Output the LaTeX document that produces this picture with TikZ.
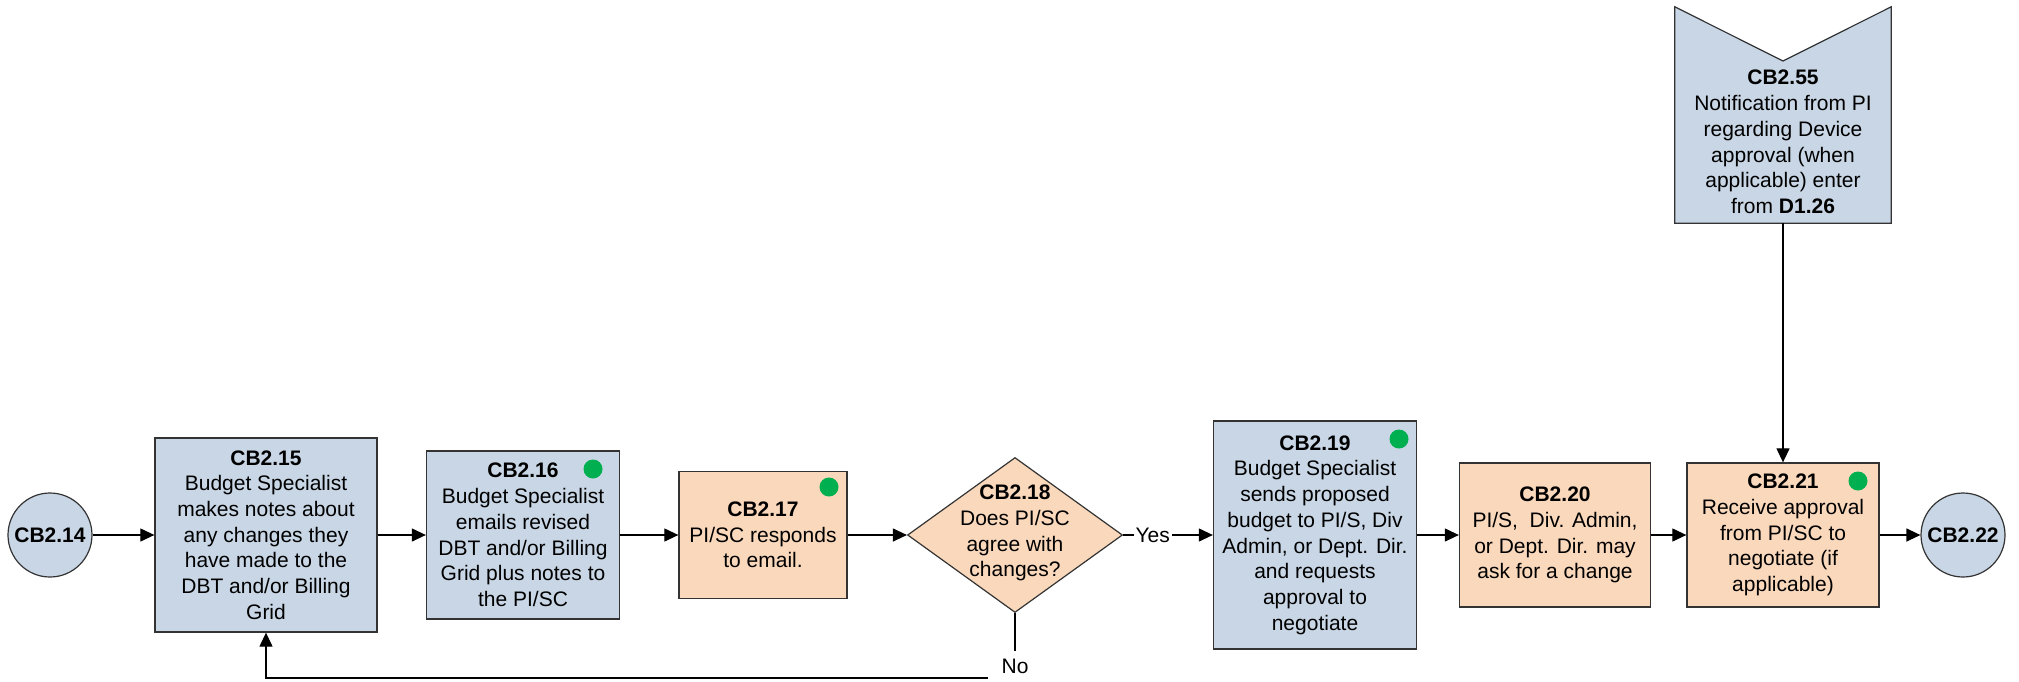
\documentclass[tikz,border=0pt]{standalone}
\usepackage{fontspec}
\setmainfont{Liberation Sans}
\usetikzlibrary{shapes.geometric,arrows.meta}
\definecolor{stepblue}{HTML}{C8D6E5}
\definecolor{steporange}{HTML}{FAD8BC}
\definecolor{dotgreen}{HTML}{00B050}
\definecolor{edge}{HTML}{333333}
\tikzset{
  txt/.style={font=\fontsize{21}{25.7}\selectfont, align=center, inner sep=0pt},
  bluebox/.style={txt, draw=edge, line width=1.3pt, fill=stepblue, rectangle},
  orangebox/.style={txt, draw=edge, line width=1.3pt, fill=steporange, rectangle},
  endpoint/.style={txt, circle, draw=edge, line width=1.2pt, fill=stepblue, minimum size=84pt},
  decision/.style={diamond, draw=edge, line width=1.2pt, fill=steporange, inner sep=0pt,
    minimum width=215pt, minimum height=155pt},
  greendot/.style={circle, fill=dotgreen, minimum size=19pt, inner sep=0pt},
  flow/.style={draw=black, line width=1.2pt, -{Triangle[length=14pt,width=13pt]}},
  tag/.style={txt, fill=white, inner xsep=2pt, inner ysep=3pt}
}
\begin{document}
\begin{tikzpicture}[x=1pt,y=-1pt]
\useasboundingbox (0,0) rectangle (2019,681);

% start and end connectors
\node[endpoint] (c14) at (50,535) {\textbf{CB2.14}};
\node[endpoint] (c22) at (1963,535) {\textbf{CB2.22}};

% process steps
\node[bluebox, minimum width=222pt, minimum height=194pt] (b15) at (266,535)
  {\textbf{CB2.15}\\Budget Specialist\\makes notes about\\any changes they\\have made to the\\DBT and/or Billing\\Grid};
\node[bluebox, minimum width=193pt, minimum height=168pt] (b16) at (523,535)
  {\textbf{CB2.16}\\Budget Specialist\\emails revised\\DBT and/or Billing\\Grid plus notes to\\the PI/SC};
\node[orangebox, minimum width=168pt, minimum height=127pt] (b17) at (763,535)
  {\textbf{CB2.17}\\PI/SC responds\\to email.};
\node[decision] (d18) at (1015,535) {};
\node[txt] (t18) at (1015,533) {\textbf{CB2.18}\\Does PI/SC\\agree with\\changes?};
\node[bluebox, minimum width=203pt, minimum height=228pt] (b19) at (1315,535)
  {\textbf{CB2.19}\\Budget Specialist\\sends proposed\\budget to PI/S, Div\\Admin, or Dept. Dir.\\and requests\\approval to\\negotiate};
\node[orangebox, minimum width=191pt, minimum height=144pt] (b20) at (1555,535)
  {\textbf{CB2.20}\\PI/S,\ \ Div. Admin,\\or Dept. Dir. may\\ask for a change};
\node[orangebox, minimum width=192pt, minimum height=144pt] (b21) at (1783,535)
  {\textbf{CB2.21}\\Receive approval\\from PI/SC to\\negotiate (if\\applicable)};

% off-page entry from D1.26
\node[minimum width=216pt, minimum height=216pt, inner sep=0pt] (n55) at (1783,115) {};
\filldraw[draw=edge, line width=1.2pt, fill=stepblue]
  (n55.north west) -- (1783,61) -- (n55.north east) -- (n55.south east) -- (n55.south west) -- cycle;
\node[txt] (t55) at (1783,142)
  {\textbf{CB2.55}\\Notification from PI\\regarding Device\\approval (when\\applicable) enter\\from \textbf{D1.26}};

% status markers
\node[greendot] (g16) at (593,469) {};
\node[greendot] (g17) at (829,487) {};
\node[greendot] (g19) at (1399,439) {};
\node[greendot] (g21) at (1858,481) {};

% main flow
\draw[flow] (c14.east) -- (b15.west);
\draw[flow] (b15.east) -- (b16.west);
\draw[flow] (b16.east) -- (b17.west);
\draw[flow] (b17.east) -- (d18.west);
\draw[flow] (d18.east) -- node[tag, pos=0.33] (yes) {Yes} (b19.west);
\draw[flow] (b19.east) -- (b20.west);
\draw[flow] (b20.east) -- (b21.west);
\draw[flow] (b21.east) -- (c22.west);
\draw[flow] (n55.south) -- (b21.north);

% rework loop
\coordinate (fb) at (1015,678);
\draw[flow] (d18.south) -- (fb) -| (b15.south);
\node[tag, inner xsep=14pt, minimum height=30pt] (no) at (1015,666) {No};
\end{tikzpicture}
\end{document}
